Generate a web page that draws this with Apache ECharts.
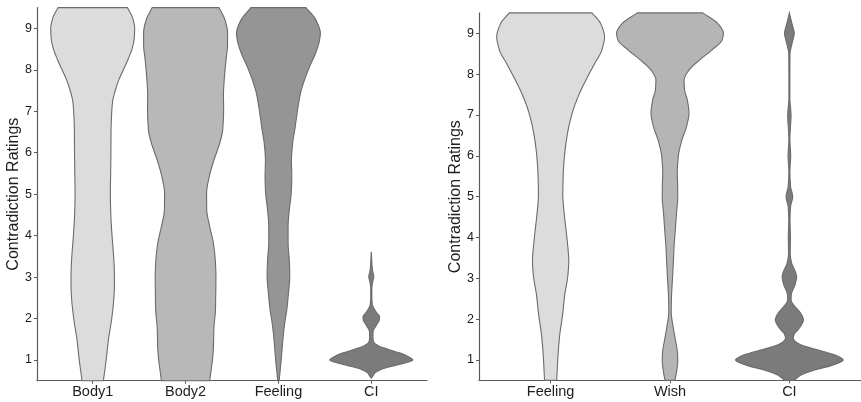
<!DOCTYPE html>
<html>
<head>
<meta charset="utf-8">
<script src="https://cdn.jsdelivr.net/npm/echarts@6/dist/echarts.min.js"></script>
<style>
html,body{margin:0;padding:0;background:#fff;}
#chart{width:861px;height:402px;}
</style>
</head>
<body>
<div id="chart"></div>
<script>
// ---- data ----
const categoriesLeft = ['Body1', 'Body2', 'Feeling', 'CI'];
const categoriesRight = ['Feeling', 'Wish', 'CI'];
const yTickValues = [1, 2, 3, 4, 5, 6, 7, 8, 9];
const yTitle = 'Contradiction Ratings';

// violin outlines: [rating, half-width in category units], bottom to top
const body1Density = [[0.5,0.115],[1.0,0.145],[1.5,0.17],[2.0,0.205],[2.5,0.228],[2.8,0.234],[3.2,0.232],[3.6,0.222],[4.0,0.208],[4.5,0.195],[5.0,0.19],[5.5,0.193],[6.0,0.196],[6.5,0.197],[7.0,0.205],[7.25,0.215],[7.5,0.243],[7.75,0.28],[8.0,0.33],[8.25,0.38],[8.5,0.423],[8.75,0.447],[9.0,0.452],[9.25,0.43],[9.5,0.373]];
const body2Density = [[0.5,0.26],[0.8,0.278],[1.0,0.29],[1.3,0.30],[1.76,0.305],[2.21,0.322],[2.6,0.325],[3.01,0.327],[3.41,0.32],[3.81,0.30],[4.22,0.26],[4.62,0.228],[5.02,0.226],[5.42,0.255],[5.82,0.305],[6.23,0.368],[6.55,0.40],[7.03,0.41],[7.4,0.408],[7.75,0.416],[8.25,0.436],[8.6,0.452],[8.9,0.452],[9.2,0.425],[9.5,0.359]];
const feelingLeftDensity = [[0.5,0.008],[1.0,0.03],[1.64,0.054],[2.0,0.075],[2.21,0.09],[2.61,0.108],[3.01,0.122],[3.41,0.117],[3.81,0.104],[4.22,0.104],[4.62,0.117],[5.02,0.138],[5.42,0.144],[5.82,0.14],[6.23,0.153],[6.55,0.176],[7.03,0.206],[7.43,0.237],[7.75,0.28],[8.07,0.335],[8.4,0.40],[8.64,0.436],[8.88,0.452],[9.2,0.404],[9.5,0.296]];
const ciLeftDensity = [[0.56,0],[0.6,0.014],[0.68,0.036],[0.78,0.117],[0.88,0.278],[1.0,0.449],[1.08,0.40],[1.16,0.32],[1.22,0.23],[1.28,0.153],[1.34,0.08],[1.40,0.036],[1.48,0.02],[1.56,0.018],[1.64,0.018],[1.72,0.023],[1.8,0.045],[1.88,0.066],[1.96,0.086],[2.04,0.09],[2.12,0.066],[2.2,0.04],[2.33,0.012],[2.5,0.006],[2.73,0.006],[2.88,0.015],[3.01,0.027],[3.14,0.015],[3.29,0.007],[3.45,0.004],[3.61,0]];
const feelingRightDensity = [[0.5,0.051],[1.12,0.062],[1.61,0.076],[2.1,0.10],[2.59,0.118],[3.08,0.145],[3.41,0.152],[4.06,0.134],[4.55,0.115],[5.04,0.102],[5.57,0.106],[6.06,0.118],[6.55,0.141],[7.04,0.18],[7.53,0.242],[7.94,0.311],[8.26,0.369],[8.59,0.429],[8.92,0.452],[9.24,0.419],[9.5,0.346]];
const wishDensity = [[0.5,0.041],[0.71,0.055],[1.0,0.065],[1.2,0.062],[1.45,0.048],[1.78,0.028],[2.18,0.01],[2.5,0.012],[3.0,0.021],[3.4,0.028],[3.82,0.035],[4.2,0.045],[4.55,0.053],[5.0,0.065],[5.3,0.064],[5.57,0.061],[5.98,0.069],[6.39,0.10],[6.71,0.138],[7.04,0.159],[7.37,0.145],[7.61,0.122],[7.86,0.118],[8.1,0.159],[8.35,0.249],[8.59,0.351],[8.84,0.437],[9.0,0.448],[9.24,0.401],[9.5,0.274]];
const ciRightDensity = [[0.5,0.04],[0.63,0.097],[0.76,0.217],[0.88,0.367],[1.0,0.451],[1.08,0.415],[1.16,0.34],[1.24,0.249],[1.31,0.16],[1.37,0.10],[1.45,0.05],[1.53,0.032],[1.63,0.04],[1.73,0.069],[1.85,0.1],[1.98,0.118],[2.12,0.1],[2.27,0.059],[2.37,0.03],[2.47,0.014],[2.6,0.016],[2.71,0.028],[2.87,0.05],[3.04,0.061],[3.2,0.045],[3.37,0.019],[3.61,0.007],[4.0,0.009],[4.43,0.005],[4.75,0.01],[5.0,0.028],[5.25,0.01],[5.6,0.004],[6.0,0.011],[6.4,0.004],[7.0,0.014],[7.4,0.004],[8.0,0.004],[8.5,0.005],[8.75,0.022],[9.0,0.041],[9.2,0.025],[9.5,0]];

// ---- styles ----
const fillsLeft = ['#dcdcdc', '#b8b8b8', '#959595', '#7b7b7b'];
const fillsRight = ['#dcdcdc', '#b5b5b5', '#7b7b7b'];
const outlineColor = '#6b6b6b';
const axisColor = '#5a5a5a';
const FONT = 'Liberation Sans, Arial, sans-serif';

const profilesLeft = [body1Density, body2Density, feelingLeftDensity, ciLeftDensity];
const profilesRight = [feelingRightDensity, wishDensity, ciRightDensity];

// monotone cubic (Fritsch-Carlson) slopes of half-width as a function of rating
function slopes(prof) {
  const n = prof.length, m = new Array(n), d = [];
  for (let i = 0; i < n - 1; i++) d.push((prof[i + 1][1] - prof[i][1]) / (prof[i + 1][0] - prof[i][0]));
  m[0] = d[0]; m[n - 1] = d[n - 2];
  for (let i = 1; i < n - 1; i++) {
    if (d[i - 1] * d[i] <= 0) { m[i] = 0; continue; }
    const h0 = prof[i][0] - prof[i - 1][0], h1 = prof[i + 1][0] - prof[i][0];
    const w1 = 2 * h1 + h0, w2 = h1 + 2 * h0;
    m[i] = (w1 + w2) / (w1 / d[i - 1] + w2 / d[i]);
  }
  return m;
}

function makeRender(profiles, fills) {
  return function (params, api) {
    const idx = api.value(0);
    const c = api.value(1);
    const prof = profiles[idx];
    const m = slopes(prof);
    const n = prof.length;
    const P = (side, v, w) => {
      const p = api.coord([c + side * w, v]);
      return p[0].toFixed(2) + ',' + p[1].toFixed(2);
    };
    const seg = (side, i, j) => {
      const h = prof[j][0] - prof[i][0];
      const c1 = P(side, prof[i][0] + h / 3, prof[i][1] + m[i] * h / 3);
      const c2 = P(side, prof[j][0] - h / 3, prof[j][1] - m[j] * h / 3);
      return ' C' + c1 + ' ' + c2 + ' ' + P(side, prof[j][0], prof[j][1]);
    };
    let d = 'M' + P(1, prof[0][0], prof[0][1]);
    for (let i = 0; i < n - 1; i++) d += seg(1, i, i + 1);
    d += ' L' + P(-1, prof[n - 1][0], prof[n - 1][1]);
    for (let i = n - 1; i > 0; i--) d += seg(-1, i, i - 1);
    d += ' Z';
    return {
      type: 'path',
      shape: { pathData: d },
      style: { fill: fills[idx], stroke: outlineColor, lineWidth: 1.1 }
    };
  };
}

function xAxisFor(gridIndex, cats) {
  const vals = cats.map((_, i) => i + 1);
  return {
    type: 'value', gridIndex: gridIndex, min: 0.4, max: cats.length + 0.6,
    splitLine: { show: false },
    axisLine: { show: true, onZero: false, lineStyle: { color: axisColor, width: 1.2 } },
    axisTick: { show: true, length: 3, customValues: vals, lineStyle: { color: axisColor } },
    axisLabel: {
      customValues: vals, margin: 4, color: '#1e1e1e', fontSize: 14.5, fontFamily: FONT,
      formatter: v => cats[Math.round(v) - 1] || ''
    }
  };
}

function yAxisFor(gridIndex) {
  return {
    type: 'value', gridIndex: gridIndex, min: 0.5, max: 9.5,
    name: yTitle, nameLocation: 'middle', nameGap: 14, nameRotate: 90,
    nameTextStyle: { fontSize: 16, color: '#1e1e1e', fontFamily: FONT },
    splitLine: { show: false },
    axisLine: { show: true, onZero: false, lineStyle: { color: axisColor, width: 1.2 } },
    axisTick: { show: true, length: 3, customValues: yTickValues, lineStyle: { color: axisColor } },
    axisLabel: { customValues: yTickValues, margin: 5, color: '#1a1a1a', fontSize: 12.5, fontFamily: FONT }
  };
}

const chart = echarts.init(document.getElementById('chart'), null, { renderer: 'canvas' });
chart.setOption({
  backgroundColor: '#ffffff',
  animation: false,
  grid: [
    { left: 37, top: 7.6, width: 390, height: 373.1 },
    { left: 479, top: 12.9, width: 385.6, height: 367.5 }
  ],
  xAxis: [xAxisFor(0, categoriesLeft), xAxisFor(1, categoriesRight)],
  yAxis: [yAxisFor(0), yAxisFor(1)],
  series: [
    {
      type: 'custom', xAxisIndex: 0, yAxisIndex: 0,
      renderItem: makeRender(profilesLeft, fillsLeft),
      encode: { x: 1, y: -1 },
      data: categoriesLeft.map((_, i) => [i, i + 1]),
      clip: false
    },
    {
      type: 'custom', xAxisIndex: 1, yAxisIndex: 1,
      renderItem: makeRender(profilesRight, fillsRight),
      encode: { x: 1, y: -1 },
      data: categoriesRight.map((_, i) => [i, i + 1]),
      clip: false
    }
  ]
});
</script>
</body>
</html>
